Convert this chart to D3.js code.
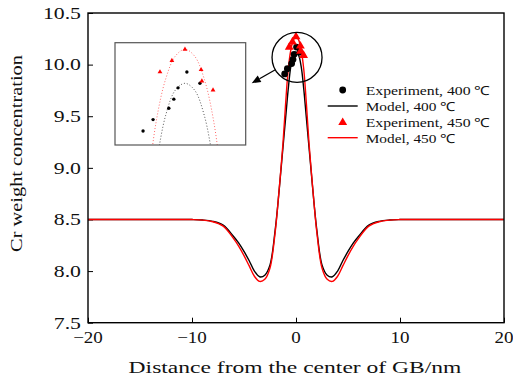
<!DOCTYPE html>
<html>
<head>
<meta charset="utf-8">
<script src="https://cdn.jsdelivr.net/npm/d3@7/dist/d3.min.js"></script>
<style>
html,body{margin:0;padding:0;background:#fff;}
svg{display:block;}
</style>
</head>
<body>
<svg id="chart" width="513" height="381"></svg>
<script>
// ---------- data ----------
const modelX = [-20,-15,-12,-10,-9,-8,-7,-6,-5.5,-5,-4.5,-4,-3.5,-3,-2.5,-2,-1.75,-1.5,-1.25,-1,-0.75,-0.5,-0.25,
  0,
  0.25,0.5,0.75,1,1.25,1.5,1.75,2,2.5,3,3.5,4,4.5,5,5.5,6,7,8,9,10,12,15,20];
const model400 = [8.5,8.5,8.5,8.499,8.495,8.482,8.445,8.335,8.27,8.19,8.1,8.0,7.945,7.96,8.06,8.4,8.64,8.92,9.2,9.48,9.76,9.98,10.09,
  10.12,
  10.09,9.98,9.76,9.48,9.2,8.92,8.64,8.4,8.06,7.96,7.945,8.0,8.1,8.19,8.27,8.335,8.445,8.482,8.495,8.499,8.5,8.5,8.5];
const model450 = [8.5,8.5,8.5,8.499,8.494,8.478,8.435,8.315,8.24,8.15,8.05,7.95,7.9,7.92,8.03,8.38,8.64,8.93,9.24,9.62,9.95,10.14,10.24,
  10.27,
  10.24,10.14,9.95,9.62,9.24,8.93,8.64,8.38,8.03,7.92,7.9,7.95,8.05,8.15,8.24,8.315,8.435,8.478,8.494,8.499,8.5,8.5,8.5];
const exp400X = [-1.09,-0.83,-0.42,-0.29,-0.18,0.05,0.39];
const exp400Y = [9.91,9.96,10.01,10.05,10.10,10.17,10.12];
const exp450X = [-0.65,-0.34,0.0,0.42,0.44,0.73];
const exp450Y = [10.17,10.22,10.27,10.18,10.13,10.09];
const xTickValues = [-20,-10,0,10,20];
const xTickLabels = ["\u221220","\u221210","0","10","20"];
const yTickValues = [7.5,8.0,8.5,9.0,9.5,10.0,10.5];
const yTickLabels = ["7.5","8.0","8.5","9.0","9.5","10.0","10.5"];
const legendLabels = ["Experiment, 400 \u2103","Model, 400 \u2103","Experiment, 450 \u2103","Model, 450 \u2103"];
const highlightCenter = {x:0.1, y:10.07};
const arrowTip = {x:-4.26, y:9.82};
const insetXDomain = [-1.82, 1.58];
const insetYDomain = [9.848, 10.299];

// ---------- layout ----------
const svg = d3.select("#chart");
const L = 88, R = 504, T = 13, B = 322.7;
const x = d3.scaleLinear().domain([-20,20]).range([L,R]);
const y = d3.scaleLinear().domain([7.5,10.5]).range([B,T]);
const FONT = "'Liberation Serif', 'Times New Roman', serif";
const TEXTCOL = "#111";

function label(parent, str, px, py, o) {
  const g = parent.append("g").attr("transform", `translate(${px},${py})` + (o.rotate ? ` rotate(${o.rotate})` : ""));
  const t = g.append("text").text(str)
    .attr("font-family", FONT).attr("font-size", o.size)
    .attr("text-anchor", o.anchor || "start").attr("fill", TEXTCOL);
  let sx = o.sx || 1;
  if (o.width) sx = o.width / t.node().getComputedTextLength();
  t.attr("transform", `scale(${sx},1)`);
  return t;
}

// axes (ticks only, inward)
svg.append("g").attr("transform", `translate(0,${B})`)
  .call(d3.axisBottom(x).tickValues(xTickValues).tickSizeInner(-5).tickSizeOuter(0).tickFormat(""))
  .call(g => g.select(".domain").remove())
  .call(g => g.selectAll("line").attr("stroke", "#000").attr("stroke-width", 1));
svg.append("g").attr("transform", `translate(${L},0)`)
  .call(d3.axisLeft(y).tickValues(yTickValues).tickSizeInner(-5).tickSizeOuter(0).tickFormat(""))
  .call(g => g.select(".domain").remove())
  .call(g => g.selectAll("line").attr("stroke", "#000").attr("stroke-width", 1));

// tick labels
xTickValues.forEach((v, i) => label(svg, xTickLabels[i], x(v), 343, {size: 17, anchor: "middle", sx: 1.12}));
yTickValues.forEach((v, i) => label(svg, yTickLabels[i], 81, y(v) + 5.8, {size: 17, anchor: "end", sx: 1.28}));

// axis titles
label(svg, "Distance from the center of GB/nm", 295, 373, {size: 17, anchor: "middle", width: 333});
label(svg, "Cr weight concentration", 21.7, 153.5, {size: 17, anchor: "middle", rotate: -90, width: 197});

// model lines
const line = d3.line().curve(d3.curveCatmullRom.alpha(0.5));
const pts400 = modelX.map((v, i) => [x(v), y(model400[i])]);
const pts450 = modelX.map((v, i) => [x(v), y(model450[i])]);
svg.append("path").attr("d", line(pts400)).attr("fill", "none").attr("stroke", "#000").attr("stroke-width", 1.4);
svg.append("path").attr("d", line(pts450)).attr("fill", "none").attr("stroke", "#ff0000").attr("stroke-width", 1.4);

// experiment markers
const circleSym = d3.symbol().type(d3.symbolCircle).size(36);
const triSym = d3.symbol().type(d3.symbolTriangle).size(34);
svg.append("g").selectAll("path").data(exp400X).join("path")
  .attr("d", circleSym).attr("transform", (d, i) => `translate(${x(d)},${y(exp400Y[i])})`).attr("fill", "#000");
svg.append("g").selectAll("path").data(exp450X).join("path")
  .attr("d", triSym).attr("transform", (d, i) => `translate(${x(d)},${y(exp450Y[i])})`).attr("fill", "#ff0000");

// highlight circle + arrow
const cx = x(highlightCenter.x), cy = y(highlightCenter.y), cr = 25;
svg.append("circle").attr("cx", cx).attr("cy", cy).attr("r", cr).attr("fill", "none").attr("stroke", "#000").attr("stroke-width", 1.3);
const tx = x(arrowTip.x), ty = y(arrowTip.y);
const dx = tx - cx, dy = ty - cy, dl = Math.hypot(dx, dy);
const ux = dx / dl, uy = dy / dl;
const sx0 = cx + ux * cr, sy0 = cy + uy * cr;
const headL = 9, headW = 3.6;
const bx = tx - ux * headL, by = ty - uy * headL;
svg.append("line").attr("x1", sx0).attr("y1", sy0).attr("x2", bx).attr("y2", by).attr("stroke", "#000").attr("stroke-width", 1.3);
svg.append("path").attr("d", `M${tx},${ty}L${bx - uy * headW},${by + ux * headW}L${bx + uy * headW},${by - ux * headW}Z`).attr("fill", "#000");

// inset
const IL = 115, IR = 245.7, IT = 42.7, IB = 145;
const ix = d3.scaleLinear().domain(insetXDomain).range([IL, IR]);
const iy = d3.scaleLinear().domain(insetYDomain).range([IB, IT]);
svg.append("clipPath").attr("id", "insetClip").append("rect").attr("x", IL).attr("y", IT).attr("width", IR - IL).attr("height", IB - IT);
const inset = svg.append("g").attr("clip-path", "url(#insetClip)");
inset.append("path").attr("d", line(modelX.map((v, i) => [ix(v), iy(model400[i])])))
  .attr("fill", "none").attr("stroke", "#555").attr("stroke-width", 1).attr("stroke-dasharray", "1,2");
inset.append("path").attr("d", line(modelX.map((v, i) => [ix(v), iy(model450[i])])))
  .attr("fill", "none").attr("stroke", "#ff6a6a").attr("stroke-width", 1).attr("stroke-dasharray", "1,2");
const circleSm = d3.symbol().type(d3.symbolCircle).size(9);
const triSm = d3.symbol().type(d3.symbolTriangle).size(10);
inset.append("g").selectAll("path").data(exp400X).join("path")
  .attr("d", circleSm).attr("transform", (d, i) => `translate(${ix(d)},${iy(exp400Y[i])})`).attr("fill", "#000");
inset.append("g").selectAll("path").data(exp450X).join("path")
  .attr("d", triSm).attr("transform", (d, i) => `translate(${ix(d)},${iy(exp450Y[i])})`).attr("fill", "#ff0000");
svg.append("rect").attr("x", IL).attr("y", IT).attr("width", IR - IL).attr("height", IB - IT)
  .attr("fill", "none").attr("stroke", "#555").attr("stroke-width", 1.2);

// frame
svg.append("rect").attr("x", L).attr("y", T).attr("width", R - L).attr("height", B - T)
  .attr("fill", "none").attr("stroke", "#000").attr("stroke-width", 1.4);

// legend
const legX0 = 327.7, legX1 = 357.7, legTextX = 365.7;
const rowY = [90, 106, 122.5, 137.7];
const legend = svg.append("g");
legend.append("path").attr("d", circleSym).attr("transform", `translate(${(legX0 + legX1) / 2},${rowY[0]})`).attr("fill", "#000");
legend.append("line").attr("x1", legX0).attr("x2", legX1).attr("y1", rowY[1]).attr("y2", rowY[1]).attr("stroke", "#000").attr("stroke-width", 1.4);
legend.append("path").attr("d", triSym).attr("transform", `translate(${(legX0 + legX1) / 2},${rowY[2]})`).attr("fill", "#ff0000");
legend.append("line").attr("x1", legX0).attr("x2", legX1).attr("y1", rowY[3]).attr("y2", rowY[3]).attr("stroke", "#ff0000").attr("stroke-width", 1.4);
const legWidths = [124, 89.3, 124, 89.3];
legendLabels.forEach((s, i) => label(legend, s, legTextX, rowY[i] + 4.8, {size: 12.5, width: legWidths[i]}));
</script>
</body>
</html>
